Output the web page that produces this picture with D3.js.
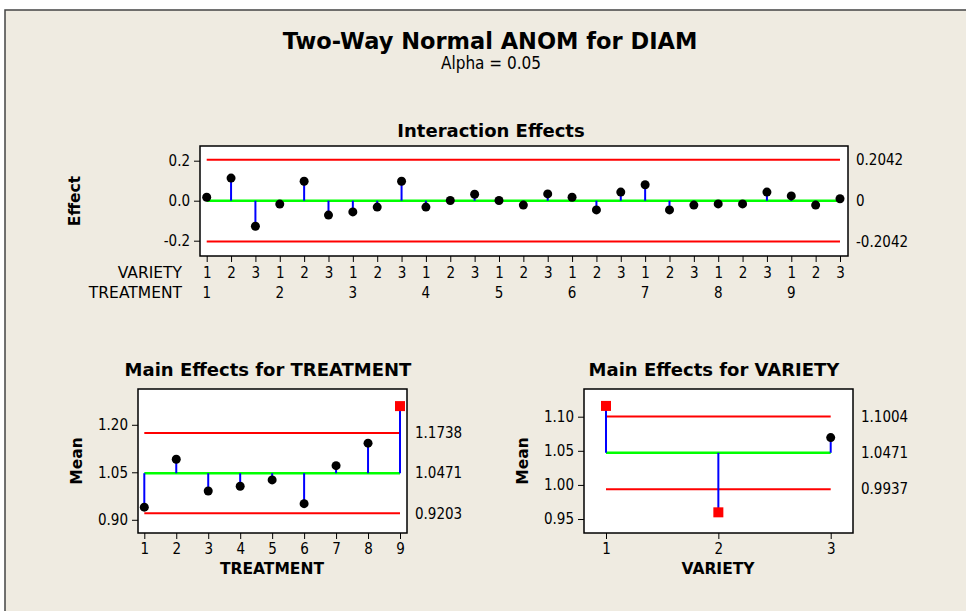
<!DOCTYPE html>
<html>
<head>
<meta charset="utf-8">
<script src="https://cdn.jsdelivr.net/npm/d3@7"></script>
<style>
  body { margin: 0; background: #ffffff; }
  svg text { font-family: "DejaVu Sans Condensed", "DejaVu Sans", sans-serif; font-stretch: condensed; fill: #000; }
  svg text.wide { font-family: "DejaVu Sans", sans-serif; font-stretch: normal; }
</style>
</head>
<body>
<svg id="chart" width="966" height="611"></svg>
<script>
// interaction effects, one per TREATMENT x VARIETY cell (treatment outer, variety inner)
const treatmentLevels = ["1", "2", "3", "4", "5", "6", "7", "8", "9"];
const varietyLevels = ["1", "2", "3"];
const interactionEffects = [
  0.017, 0.113, -0.128,
  -0.017, 0.097, -0.072,
  -0.056, -0.032, 0.097,
  -0.032, 0.001, 0.032,
  0.001, -0.022, 0.034,
  0.017, -0.046, 0.043,
  0.080, -0.046, -0.022,
  -0.016, -0.016, 0.043,
  0.024, -0.022, 0.010
];
const interactionLimit = 0.2042;
const interactionTicks = [-0.2, 0.0, 0.2];

const grandMean = 1.0471;
const treatmentMeans = [0.940, 1.091, 0.991, 1.006, 1.026, 0.951, 1.071, 1.142, 1.259];
const treatmentLimits = [0.9203, 1.1738];
const treatmentTicks = [0.90, 1.05, 1.20];

const varietyMeans = [1.1158, 0.9598, 1.0694];
const varietyLimits = [0.9937, 1.1004];
const varietyTicks = [0.95, 1.00, 1.05, 1.10];

const RED = "#ff0000", GREEN = "#00ff00", BLUE = "#0000ff";

const svg = d3.select("#chart");

// frame
svg.append("rect").attr("x", 5).attr("y", 10).attr("width", 966).attr("height", 610)
  .attr("fill", "#efebe1").attr("stroke", "#444").attr("stroke-width", 1.5);

svg.append("text").attr("class", "wide").attr("x", 490).attr("y", 49).attr("text-anchor", "middle")
  .attr("font-size", 22.5).attr("font-weight", "bold").text("Two-Way Normal ANOM for DIAM");
svg.append("text").attr("x", 491).attr("y", 69).attr("text-anchor", "middle")
  .attr("font-size", 17).text("Alpha = 0.05");

const hyphen = f => d => f(d).replace("\u2212", "-");

function styleAxis(a) {
  a.select(".domain").remove();
  a.selectAll("text").attr("font-size", 15).attr("font-family", null);
  a.selectAll("line").attr("stroke", "#000");
}

// draws one ANOM panel: box, limits, stems, points
function panel(opt) {
  const g = svg.append("g");
  const x = d3.scaleLinear().domain(opt.xDomain).range(opt.xRange);
  const y = d3.scaleLinear().domain(opt.yDomain).range([opt.box.bottom, opt.box.top]);

  g.append("rect").attr("x", opt.box.left).attr("y", opt.box.top)
    .attr("width", opt.box.right - opt.box.left).attr("height", opt.box.bottom - opt.box.top)
    .attr("fill", "#fff").attr("stroke", "#000").attr("stroke-width", 1.5);

  // left axis
  g.append("g").attr("transform", `translate(${opt.box.left},0)`)
    .call(d3.axisLeft(y).tickValues(opt.yTicks).tickSize(6).tickPadding(4).tickFormat(hyphen(opt.yFormat)))
    .call(styleAxis);

  const x0 = x(opt.firstIdx), x1 = x(opt.lastIdx);
  const center = opt.center;
  // limit lines
  opt.limits.forEach(l => {
    g.append("line").attr("x1", x0).attr("x2", x1).attr("y1", y(l)).attr("y2", y(l))
      .attr("stroke", RED).attr("stroke-width", 2);
  });
  g.append("line").attr("x1", x0).attr("x2", x1).attr("y1", y(center)).attr("y2", y(center))
    .attr("stroke", GREEN).attr("stroke-width", 2.5);

  // stems
  g.selectAll(".stem").data(opt.values).enter().append("line")
    .attr("x1", (d, i) => x(opt.firstIdx + i)).attr("x2", (d, i) => x(opt.firstIdx + i))
    .attr("y1", y(center)).attr("y2", d => y(d))
    .attr("stroke", BLUE).attr("stroke-width", 2);

  const out = d => d > opt.limits[1] || d < opt.limits[0];
  g.selectAll(".pt").data(opt.values).enter().each(function (d, i) {
    const px = x(opt.firstIdx + i), py = y(d);
    if (out(d)) {
      d3.select(this).append("rect").attr("x", px - 5).attr("y", py - 5)
        .attr("width", 10).attr("height", 10).attr("fill", RED);
    } else {
      d3.select(this).append("circle").attr("cx", px).attr("cy", py).attr("r", 4.5).attr("fill", "#000");
    }
  });

  // right-side reference values
  opt.rightLabels.forEach(r => {
    g.append("text").attr("x", opt.box.right + 8).attr("y", y(r.v)).attr("dy", "0.35em")
      .attr("font-size", 15).text(r.t);
  });

  // titles
  g.append("text").attr("class", "wide").attr("x", opt.titleX).attr("y", opt.titleY).attr("text-anchor", "middle")
    .attr("font-size", 18).attr("font-weight", "bold").text(opt.title);
  g.append("text").attr("class", "wide")
    .attr("transform", `translate(${opt.yLabelX},${(opt.box.top + opt.box.bottom) / 2}) rotate(-90)`)
    .attr("text-anchor", "middle").attr("dy", "0.35em")
    .attr("font-size", 15.5).attr("font-weight", "bold").text(opt.yLabel);
  return { g, x, y };
}

// Interaction Effects
const ip = panel({
  box: { left: 200, top: 146, right: 848, bottom: 256 },
  xDomain: [0, 26], xRange: [206.7, 840], firstIdx: 0, lastIdx: 26,
  yDomain: [-0.2765, 0.2735], yTicks: interactionTicks, yFormat: d3.format(".1f"),
  values: interactionEffects, center: 0, limits: [-interactionLimit, interactionLimit],
  rightLabels: [{ v: interactionLimit, t: "0.2042" }, { v: 0, t: "0" }, { v: -interactionLimit, t: "-0.2042" }],
  title: "Interaction Effects", titleX: 491, titleY: 137, yLabel: "Effect", yLabelX: 75
});
ip.g.append("g").attr("transform", "translate(0,256)")
  .call(d3.axisBottom(ip.x).tickValues(d3.range(interactionEffects.length)).tickSize(6).tickPadding(5)
    .tickFormat(i => varietyLevels[i % varietyLevels.length]))
  .call(styleAxis);
ip.g.selectAll(".trt").data(treatmentLevels).enter().append("text")
  .attr("x", (d, i) => ip.x(i * varietyLevels.length)).attr("y", 298).attr("text-anchor", "middle")
  .attr("font-size", 15).text(d => d);
ip.g.append("text").attr("class", "wide").attr("x", 182).attr("y", 278).attr("text-anchor", "end")
  .attr("font-size", 15.5).text("VARIETY");
ip.g.append("text").attr("class", "wide").attr("x", 182).attr("y", 298).attr("text-anchor", "end")
  .attr("font-size", 15.5).text("TREATMENT");

// Main Effects for TREATMENT
const tp = panel({
  box: { left: 138, top: 389, right: 407, bottom: 533 },
  xDomain: [1, 9], xRange: [144.3, 400], firstIdx: 1, lastIdx: 9,
  yDomain: [0.8583, 1.313], yTicks: treatmentTicks, yFormat: d3.format(".2f"),
  values: treatmentMeans, center: grandMean, limits: treatmentLimits,
  rightLabels: [{ v: treatmentLimits[1], t: "1.1738" }, { v: grandMean, t: "1.0471" }, { v: treatmentLimits[0], t: "0.9203" }],
  title: "Main Effects for TREATMENT", titleX: 268, titleY: 376, yLabel: "Mean", yLabelX: 77
});
tp.g.append("g").attr("transform", "translate(0,533)")
  .call(d3.axisBottom(tp.x).tickValues(d3.range(1, 10)).tickSize(6).tickPadding(4).tickFormat(i => treatmentLevels[i - 1]))
  .call(styleAxis);
tp.g.append("text").attr("class", "wide").attr("x", 272).attr("y", 574).attr("text-anchor", "middle")
  .attr("font-size", 15.5).attr("font-weight", "bold").text("TREATMENT");

// Main Effects for VARIETY
const vp = panel({
  box: { left: 584, top: 389, right: 853, bottom: 533 },
  xDomain: [1, 3], xRange: [606, 830.7], firstIdx: 1, lastIdx: 3,
  yDomain: [0.9295, 1.1406], yTicks: varietyTicks, yFormat: d3.format(".2f"),
  values: varietyMeans, center: grandMean, limits: varietyLimits,
  rightLabels: [{ v: varietyLimits[1], t: "1.1004" }, { v: grandMean, t: "1.0471" }, { v: varietyLimits[0], t: "0.9937" }],
  title: "Main Effects for VARIETY", titleX: 714, titleY: 376, yLabel: "Mean", yLabelX: 523
});
vp.g.append("g").attr("transform", "translate(0,533)")
  .call(d3.axisBottom(vp.x).tickValues([1, 2, 3]).tickSize(6).tickPadding(4).tickFormat(i => varietyLevels[i - 1]))
  .call(styleAxis);
vp.g.append("text").attr("class", "wide").attr("x", 718).attr("y", 574).attr("text-anchor", "middle")
  .attr("font-size", 15.5).attr("font-weight", "bold").text("VARIETY");
</script>
</body>
</html>
